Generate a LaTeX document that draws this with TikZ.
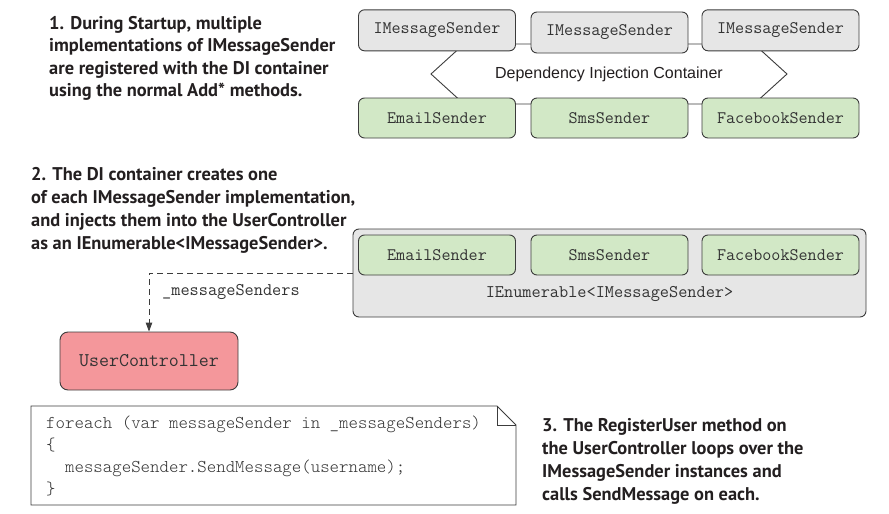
\documentclass[tikz,border=0pt]{standalone}
\usepackage{fontspec}
\setmainfont{PT Sans}
\newfontfamily\diafont{Liberation Sans}
\newfontfamily\monofont{Latin Modern Mono}
\newfontfamily\codefont{Latin Modern Mono Light}
\usetikzlibrary{arrows.meta}
\definecolor{boxgray}{HTML}{E6E6E6}
\definecolor{boxgreen}{HTML}{D2E8C6}
\definecolor{boxpink}{HTML}{F4979B}
\definecolor{edge}{HTML}{3C3C3C}
\definecolor{ink}{HTML}{231F20}
\definecolor{monoink}{HTML}{333333}
\tikzset{
  box/.style={draw=edge, line width=0.9pt, rounded corners=6pt, inner sep=0pt,
    minimum width=157pt, minimum height=41pt, text=monoink,
    font=\monofont\fontsize{17.6}{20}\selectfont},
  graybox/.style={box, fill=boxgray},
  greenbox/.style={box, fill=boxgreen, minimum height=40pt},
  note/.style={anchor=base west, inner sep=0pt, text=ink,
    font=\bfseries\fontsize{18.4}{22}\selectfont},
  codeline/.style={anchor=base west, inner sep=0pt, text=monoink,
    font=\codefont\fontsize{18}{22}\selectfont},
  connector/.style={draw=edge, line width=0.9pt},
}
\begin{document}
\begin{tikzpicture}[x=1pt,y=-1pt]
\useasboundingbox (0,0) rectangle (889,514);

% ---- Section 1 text
\node[note] (n1a) at (49,29.3) {1. During Startup, multiple};
\node[note] (n1b) at (49,51.8) {implementations of IMessageSender};
\node[note] (n1c) at (49,74.3) {are registered with the DI container};
\node[note] (n1d) at (49,96.8) {using the normal Add* methods.};

% ---- DI container hexagon
\draw[connector, fill=white] (464,44) -- (754,44) -- (787,74) -- (754,104)
  -- (464,104) -- (431,74) -- cycle;
\node[text=ink, font=\diafont\fontsize{16}{19}\selectfont] (dic) at (609,74)
  {Dependency Injection Container};

\node[graybox] (t1) at (437,30.3) {IMessageSender};
\node[graybox] (t2) at (609.5,32.5) {IMessageSender};
\node[graybox] (t3) at (780.5,30.3) {IMessageSender};
\node[greenbox] (g1) at (437,118) {EmailSender};
\node[greenbox] (g2) at (609.5,118) {SmsSender};
\node[greenbox] (g3) at (780.5,118) {FacebookSender};

% ---- Section 2 text
\node[note] (n2a) at (31,180.7) {2. The DI container creates one};
\node[note] (n2b) at (31,203.6) {of each IMessageSender implementation,};
\node[note] (n2c) at (31,226.5) {and injects them into the UserController};
\node[note] (n2d) at (31,249.3) {as an IEnumerable<IMessageSender>.};

% ---- IEnumerable container
\node[box, fill=boxgray, minimum width=513pt, minimum height=88pt] (enum) at (609.5,273) {};
\node[greenbox] (e1) at (437,255) {EmailSender};
\node[greenbox] (e2) at (609.5,255) {SmsSender};
\node[greenbox] (e3) at (780.5,255) {FacebookSender};
\node[text=monoink, inner sep=0pt, font=\monofont\fontsize{17.8}{20}\selectfont] (enumlbl) at (609.5,294)
  {IEnumerable<IMessageSender>};

% ---- UserController
\node[box, fill=boxpink, rounded corners=8pt, minimum width=178pt, minimum height=58pt,
  font=\monofont\fontsize{19.4}{22}\selectfont] (uc) at (149,361) {UserController};

\draw[draw=edge, line width=0.9pt, dash pattern=on 6pt off 4pt,
  -{Triangle[length=9pt,width=6.5pt]}] (enum.west) -| (uc.north);
\node[anchor=west, inner sep=0pt, text=monoink, font=\monofont\fontsize{17.8}{20}\selectfont]
  (ms) at (162,292) {\_messageSenders};

% ---- Code note
\draw[draw=edge, line width=0.9pt, fill=white] (31,406) -- (497,406) -- (516,425)
  -- (516,505) -- (31,505) -- cycle;
\draw[draw=edge, line width=0.9pt] (497,406) -- (497,425) -- (516,425);
\node[codeline] (c1) at (46,428) {foreach (var messageSender in \_messageSenders)};
\node[codeline] (c2) at (46,450) {\{};
\node[codeline] (c3) at (46,472) {\ \ messageSender.SendMessage(username);};
\node[codeline] (c4) at (46,494) {\}};

% ---- Section 3 text
\node[note] (n3a) at (542,431) {3. The RegisterUser method on};
\node[note] (n3b) at (542,454) {the UserController loops over the};
\node[note] (n3c) at (542,477) {IMessageSender instances and};
\node[note] (n3d) at (542,500) {calls SendMessage on each.};
\end{tikzpicture}
\end{document}
